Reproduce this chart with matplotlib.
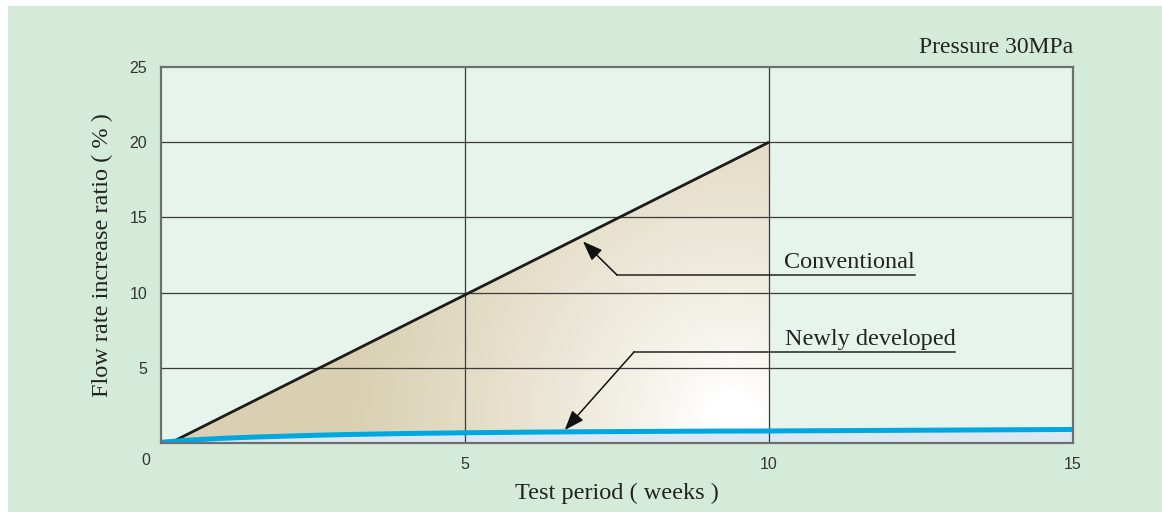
import numpy as np
import matplotlib
matplotlib.use("Agg")
import matplotlib.pyplot as plt
from matplotlib.patches import Rectangle, Polygon
from matplotlib.colors import to_rgb

# Data
conv_weeks = [0.15, 10]
conv_ratio = [0, 20]
new_weeks = [0, 0.5, 1, 1.5, 2, 2.5, 3, 4, 5, 6, 7, 8, 9, 10, 12, 15]
new_ratio = [0.05, 0.20, 0.31, 0.39, 0.45, 0.51, 0.56, 0.63, 0.68, 0.72, 0.75, 0.77, 0.79, 0.80, 0.84, 0.90]
x_ticks = [5, 10, 15]
y_ticks = [5, 10, 15, 20, 25]

serif = ["Liberation Serif", "DejaVu Serif"]
sans = ["Liberation Sans", "DejaVu Sans"]

W, H = 1162, 512
fig = plt.figure(figsize=(W / 100, H / 100), dpi=100, facecolor="white")
fig.patches.append(Rectangle((8 / W, 0), 1 - 8 / W, (H - 6) / H, transform=fig.transFigure,
                             facecolor="#d4ebda", edgecolor="none", zorder=-10))

ax = fig.add_axes([161 / W, (H - 443) / H, (1073 - 161) / W, (443 - 67) / H])
ax.set_facecolor("#e6f4ec")
ax.set_xlim(0, 15)
ax.set_ylim(0, 25)

# Light blue band under the new product's curve
ax.fill_between(new_weeks, 0, new_ratio, color="#dbe8f2", zorder=1, lw=0)

# Shaded gap between the two curves (tan fading to white near the lower right)
nx, ny = 600, 500
gx = np.linspace(0, 15, nx)
gy = np.linspace(0, 25, ny)
GX, GY = np.meshgrid(gx, gy)
px = (GX - 9.4) * 60.8
py = (GY - 1.5) * 15.04
d = np.sqrt(px ** 2 + (0.95 * py) ** 2)
t = np.clip((d - 30.0) / 360.0, 0, 1) ** 0.75
tan = np.array(to_rgb("#d9d0b1"))
white = np.array([1.0, 1.0, 1.0])
img = white[None, None, :] * (1 - t[..., None]) + tan[None, None, :] * t[..., None]
im = ax.imshow(img, extent=(0, 15, 0, 25), origin="lower", aspect="auto", zorder=1.5,
               interpolation="bilinear")
xs = np.linspace(conv_weeks[0], conv_weeks[1], 200)
upper = np.interp(xs, conv_weeks, conv_ratio)
lower = np.interp(xs, new_weeks, new_ratio)
lower = np.minimum(lower, upper)
poly = np.vstack([np.column_stack([xs, upper]), np.column_stack([xs[::-1], lower[::-1]])])
clip = Polygon(poly, closed=True, transform=ax.transData, facecolor="none", edgecolor="none")
ax.add_patch(clip)
im.set_clip_path(clip)

# Grid
for v in x_ticks[:-1]:
    ax.axvline(v, color="#3a3a3a", lw=0.9, zorder=2)
for v in y_ticks[:-1]:
    ax.axhline(v, color="#3a3a3a", lw=0.9, zorder=2)

# Curves
ax.plot(conv_weeks, conv_ratio, color="#1c1c1c", lw=2.0, zorder=3, solid_capstyle="butt")
ax.plot(new_weeks, new_ratio, color="#00a8e1", lw=3.6, zorder=3, solid_capstyle="butt")

for s in ax.spines.values():
    s.set_color("#6e6e6e")
    s.set_linewidth(1.6)
    s.set_zorder(4)

ax.set_xticks(x_ticks)
ax.set_yticks(y_ticks)
ax.tick_params(length=0, pad=10, labelsize=11.5, labelcolor="#333333")
for lab in ax.get_xticklabels() + ax.get_yticklabels():
    lab.set_family(sans)
ax.text(-0.25, -1.15, "0", ha="center", va="center", fontsize=11.5, color="#333333",
        family=sans, clip_on=False)

ax.set_xlabel("Test period ( weeks )", family=serif, fontsize=17.5, color="#222222", labelpad=8)
ax.set_ylabel("Flow rate increase ratio ( % )", family=serif, fontsize=17.5, color="#222222", labelpad=12)
ax.text(15, 25.6, "Pressure 30MPa", ha="right", va="bottom", family=serif, fontsize=17,
        color="#222222")

# Callouts
def callout(label, tip, knee, end, text_x, text_y):
    ax.plot([knee[0], end], [knee[1], knee[1]], color="#222222", lw=1.1, zorder=5)
    ax.annotate("", xy=tip, xytext=knee,
                arrowprops=dict(arrowstyle="-|>,head_length=1.2,head_width=0.45",
                                color="#111111", lw=1.1, shrinkA=0, shrinkB=0), zorder=5)
    ax.text(text_x, text_y, label, ha="center", va="bottom", family=serif, fontsize=17.5,
            color="#222222", zorder=5)

callout("Conventional", (6.94, 13.4), (7.5, 11.17), 12.4, 11.33, 11.3)
callout("Newly developed", (6.64, 0.86), (7.78, 6.05), 13.06, 11.66, 6.2)

fig.savefig("out.png", dpi=100, facecolor="white")
